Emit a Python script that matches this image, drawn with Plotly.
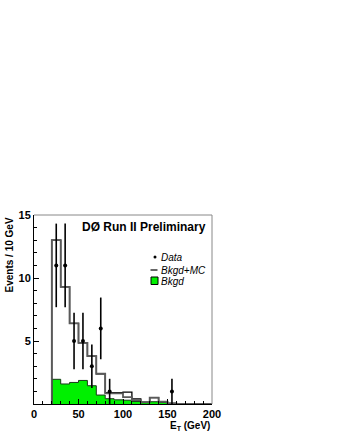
import plotly.graph_objects as go

# ---- data ----
bin_edges = [20, 30, 40, 50, 60, 70, 80, 90, 100, 110, 120, 130, 140, 150, 160, 170, 180, 190, 200]
bkgd_mc = [13.0, 9.3, 6.4, 4.85, 3.8, 2.4, 0.9, 0.9, 0.95, 0.4, 0.15, 0.5, 0.18, 0.05, 0.0, 0.0, 0.0, 0.0]
bkgd_mc_gray = [13.0, 9.3, 6.4, 4.85, 3.8, 2.4, 0.85, 0.85, 0.55, 0.3, 0.15, 0.5, 0.18, 0.05, 0.0, 0.0, 0.0, 0.0]
bkgd = [1.96, 1.59, 1.71, 1.87, 1.45, 0.71, 0.42, 0.33, 0.3, 0.2, 0.1, 0.18, 0.14, 0.05, 0.0, 0.0, 0.0, 0.0]
data_x = [25, 35, 45, 55, 65, 75, 85, 155]
data_y = [11, 11, 5, 5, 3, 6, 1, 1]
x_ticks = [0, 50, 100, 150, 200]
y_ticks = [5, 10, 15]


def step_xy(edges, vals):
    xs = [edges[0]] + list(edges[:-1]) + [edges[-1]]
    ys = [0] + list(vals) + [vals[-1]]
    return xs, ys


fig = go.Figure()

bx, by = step_xy(bin_edges, bkgd)
fig.add_trace(go.Scatter(x=bx, y=by, mode="lines", line=dict(shape="hv", color="#1a3a1a", width=1),
                         fill="tozeroy", fillcolor="#00f000", showlegend=False, hoverinfo="skip"))

kx, ky = step_xy(bin_edges, bkgd_mc)
fig.add_trace(go.Scatter(x=kx, y=ky, mode="lines", line=dict(shape="hv", color="black", width=1.3),
                         showlegend=False, hoverinfo="skip"))

gx, gy = step_xy(bin_edges, bkgd_mc_gray)
fig.add_trace(go.Scatter(x=gx, y=gy, mode="lines", line=dict(shape="hv", color="#5a5a5a", width=1.8),
                         showlegend=False, hoverinfo="skip"))

errs = [v ** 0.5 for v in data_y]
fig.add_trace(go.Scatter(x=data_x, y=data_y, mode="markers",
                         marker=dict(color="black", size=4),
                         error_y=dict(type="data", array=errs, color="black", thickness=1.6, width=0),
                         showlegend=False, hoverinfo="skip"))

font_b = "Liberation Sans"

fig.update_layout(
    width=340, height=440,
    margin=dict(l=34, r=128, t=215, b=36, autoexpand=False),
    paper_bgcolor="white", plot_bgcolor="white",
    xaxis=dict(range=[0, 200], tickvals=x_ticks, ticks="inside", ticklen=5, tickcolor="black",
               showline=True, linecolor="black", linewidth=1, showgrid=False, zeroline=False,
               automargin=False,
               tickfont=dict(family=font_b, size=11, color="black", weight="bold"),
               minor=dict(dtick=10, ticks="inside", ticklen=3, tickcolor="black")),
    yaxis=dict(range=[0, 15], tickvals=y_ticks, ticks="inside", ticklen=5, tickcolor="black",
               showline=True, linecolor="black", linewidth=1, showgrid=False, zeroline=False,
               automargin=False,
               tickfont=dict(family=font_b, size=11, color="black", weight="bold"),
               minor=dict(dtick=1, ticks="inside", ticklen=3, tickcolor="black")),
    font=dict(family=font_b, color="black"),
)

# frame (top/right)
fig.add_shape(type="line", xref="paper", yref="paper", x0=0, x1=1, y0=1, y1=1, line=dict(color="#888888", width=1))
fig.add_shape(type="line", xref="paper", yref="paper", x0=1, x1=1, y0=0, y1=1, line=dict(color="#888888", width=1))

# title inside
fig.add_annotation(text="<b>DØ Run II Preliminary</b>", xref="paper", yref="paper", x=0.975, y=0.985,
                   xanchor="right", yanchor="top", showarrow=False, font=dict(size=12, family=font_b))

# axis titles
fig.add_annotation(text="<b>Events / 10 GeV</b>", xref="paper", yref="paper", x=-0.135, y=1.0,
                   xanchor="center", yanchor="top", textangle=-90, showarrow=False,
                   font=dict(size=10, family=font_b))
fig.add_annotation(text="<b>E<sub>T</sub> (GeV)</b>", xref="paper", yref="paper", x=1.0, y=-0.072,
                   xanchor="right", yanchor="top", showarrow=False, font=dict(size=10, family=font_b))

# legend (drawn manually)
px0, pw, py0, ph = 34, 178, 215, 189


def px(x):
    return (x - px0) / pw


def py(y):
    return 1 - (y - py0) / ph


fig.add_shape(type="circle", xref="paper", yref="paper", x0=px(153.5), x1=px(156.5), y0=py(258.5), y1=py(255.5),
              fillcolor="black", line=dict(width=0))
fig.add_shape(type="line", xref="paper", yref="paper", x0=px(150.5), x1=px(157.5), y0=py(270), y1=py(270),
              line=dict(color="black", width=1.2))
fig.add_shape(type="rect", xref="paper", yref="paper", x0=px(151), x1=px(158), y0=py(284.5), y1=py(277),
              fillcolor="#00f000", line=dict(color="black", width=1))
for label, yy in [("Data", 257), ("Bkgd+MC", 270), ("Bkgd", 281)]:
    fig.add_annotation(text="<i>%s</i>" % label, xref="paper", yref="paper", x=px(158.5), y=py(yy),
                       xanchor="left", yanchor="middle", showarrow=False, font=dict(size=10, family=font_b))

fig.write_html("out.html", config={"displayModeBar": False},
               post_script="document.body.style.margin='0px';")
